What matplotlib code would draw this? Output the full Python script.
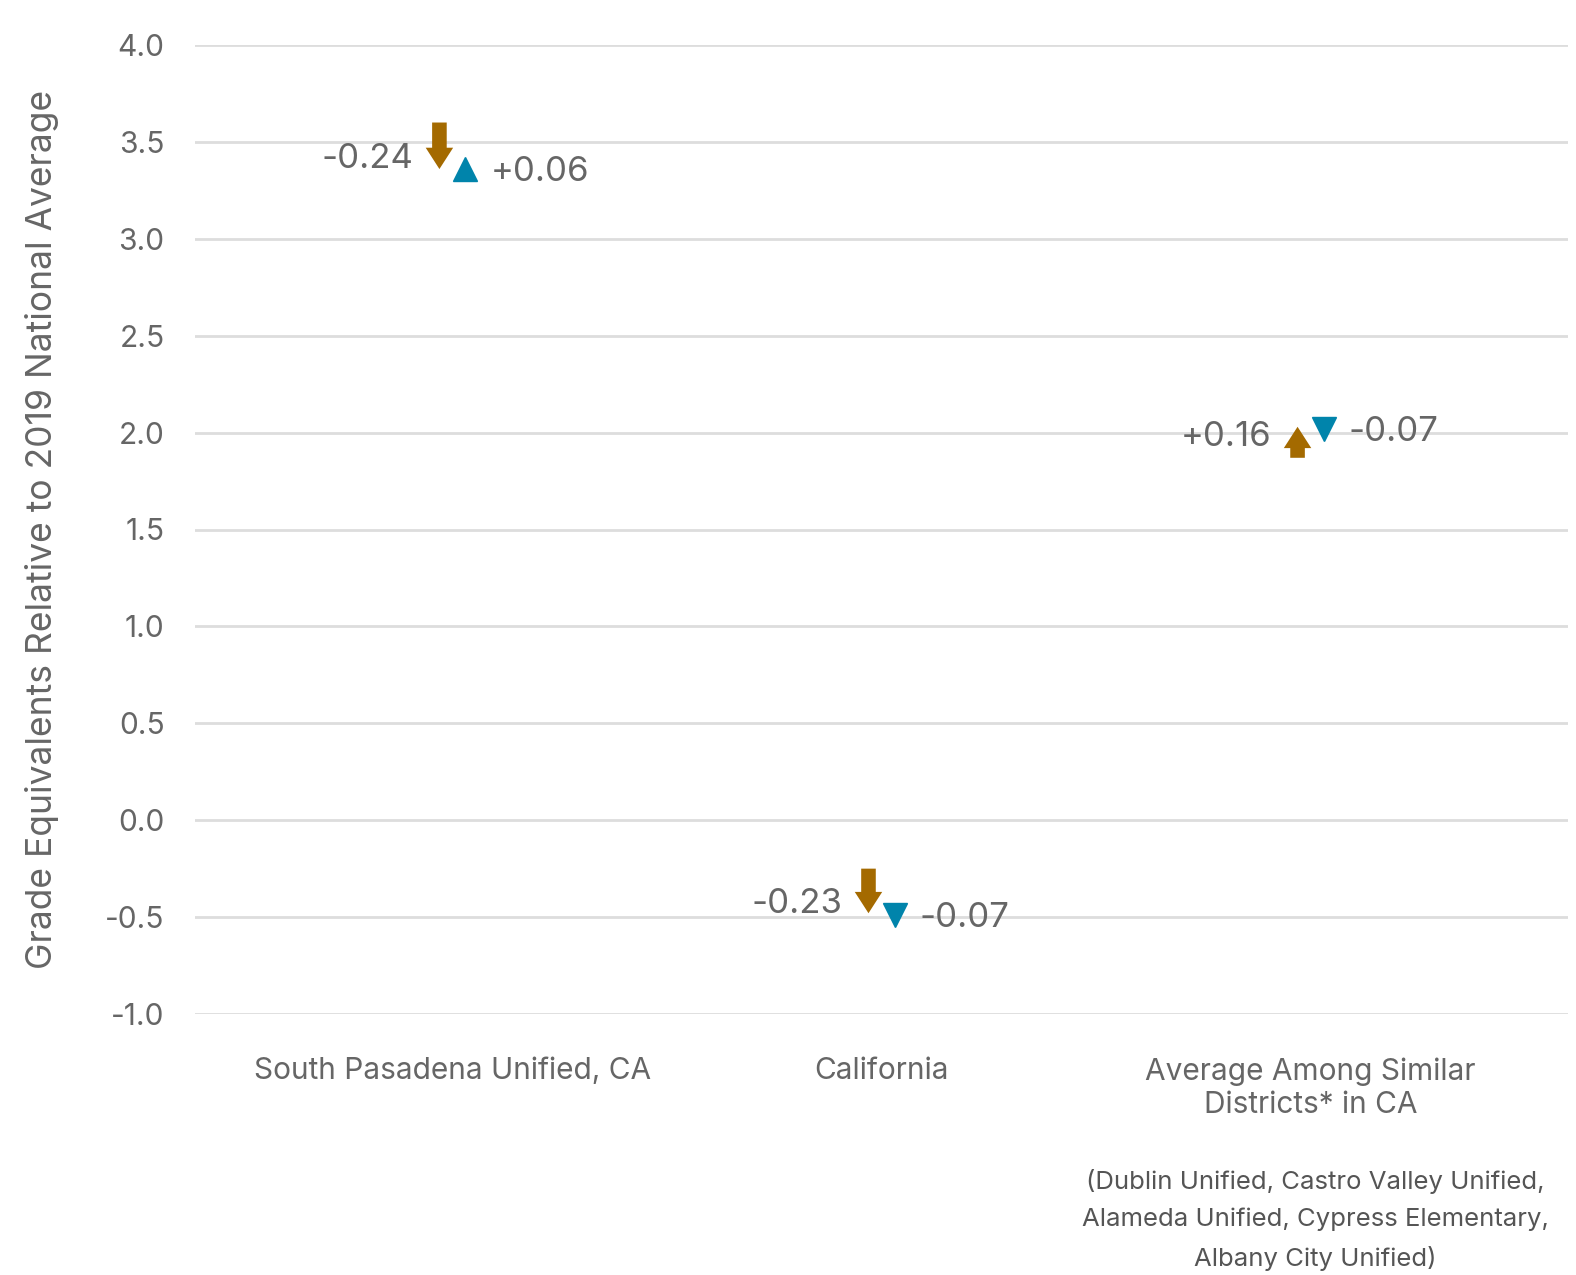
import matplotlib.pyplot as plt
import numpy as np

plt.rcParams['font.family'] = ['Inter', 'DejaVu Sans']

categories = ['South Pasadena Unified, CA', 'California',
              'Average Among Similar\nDistricts* in CA']
# brown arrow: start level and change
arrow_start = [3.60, -0.25, 1.87]
arrow_change = [-0.24, -0.23, 0.16]
# blue triangle: level and change
tri_level = [3.36, -0.49, 2.02]
tri_change = [0.06, -0.07, -0.07]
yticks = [-1.0, -0.5, 0.0, 0.5, 1.0, 1.5, 2.0, 2.5, 3.0, 3.5, 4.0]

BROWN = '#A46A00'
BLUE = '#0084AB'
TEXT = '#666666'


def main():
    fig = plt.figure(figsize=(15.76, 12.75), dpi=100)
    ax = fig.add_axes([195 / 1576, 1 - 1014 / 1275, (1568 - 195) / 1576,
                       (1014 - 45) / 1275])
    ax.set_xlim(-0.6, 2.6)
    ax.set_ylim(-1.0, 4.0)

    for s in ax.spines.values():
        s.set_visible(False)
    ax.set_yticks(yticks)
    ax.set_yticklabels(['%.1f' % v for v in yticks])
    ax.grid(axis='y', color='#dddddd', linewidth=2)
    ax.set_axisbelow(True)
    ax.tick_params(axis='y', length=0, pad=22, labelsize=21.5, labelcolor=TEXT)
    ax.set_xticks(range(len(categories)))
    ax.set_xticklabels(categories, fontsize=21.5, color=TEXT, linespacing=1.25)
    ax.tick_params(axis='x', length=0, pad=31)
    ax.set_ylabel('Grade Equivalents Relative to 2019 National Average',
                  fontsize=25.5, color=TEXT, labelpad=33)

    dx = 13 / 428.5
    for i in range(len(categories)):
        x0 = i - dx
        y0 = arrow_start[i]
        dy = arrow_change[i]
        ax.arrow(x0, y0, 0, dy, width=0.034, head_width=0.064,
                 head_length=0.11, length_includes_head=True,
                 color=BROWN, linewidth=0, zorder=3)
        sign = -1 if dy < 0 else 1
        ax.annotate('%+.2f' % dy, xy=(x0, y0 + dy), xytext=(-19, -sign * 7),
                    textcoords='offset points', ha='right', va='center',
                    fontsize=25, color=TEXT)

        x1 = i + dx
        marker = '^' if tri_change[i] > 0 else 'v'
        ax.plot([x1], [tri_level[i]], marker=marker, markersize=17,
                color=BLUE, linestyle='none', zorder=3)
        ax.annotate('%+.2f' % tri_change[i], xy=(x1, tri_level[i]),
                    xytext=(18, -2), textcoords='offset points',
                    ha='left', va='center', fontsize=25, color=TEXT)

    fig.text(1315 / 1576, 1 - 1169 / 1275,
             '(Dublin Unified, Castro Valley Unified,\n'
             'Alameda Unified, Cypress Elementary,\n'
             'Albany City Unified)',
             ha='center', va='top', fontsize=18.5, color='#555555',
             linespacing=1.75)

    fig.savefig('out.png', dpi=100)


if __name__ == '__main__':
    main()
